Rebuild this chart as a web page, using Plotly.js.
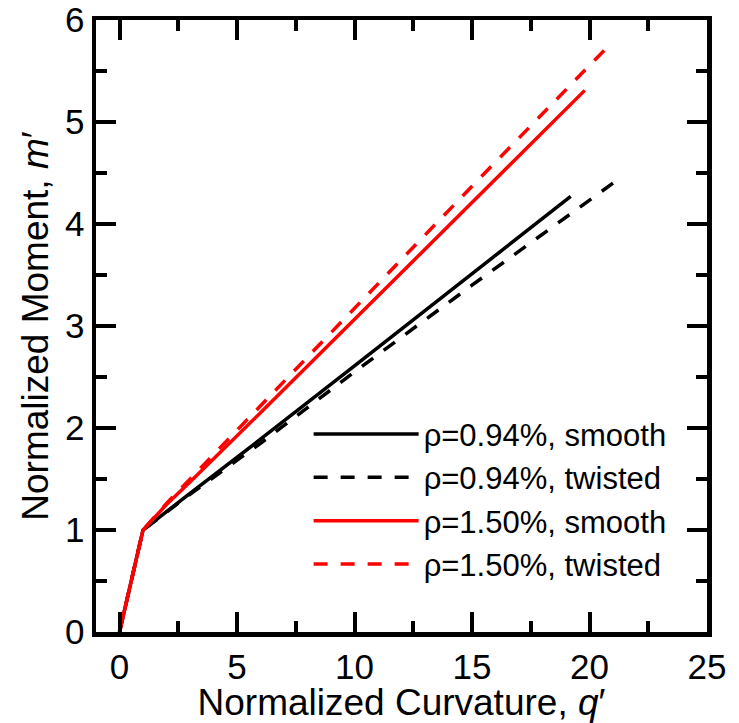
<!DOCTYPE html>
<html>
<head>
<meta charset="utf-8">
<script src="https://cdn.plot.ly/plotly-3.0.1.min.js"></script>
<style>html,body{margin:0;padding:0;background:#fff;}#chart{width:739px;height:723px;}</style>
</head>
<body>
<div id="chart"></div>
<script>
// Normalized curvature (q') and normalized moment (m')
const q_094_smooth = [0, 1, 3, 6, 10, 14, 19.2];
const m_094_smooth = [0, 1, 1.36, 1.89, 2.61, 3.33, 4.27];
const q_094_twisted = [0, 1, 3, 6, 10, 15, 21.0];
const m_094_twisted = [0, 1, 1.35, 1.85, 2.55, 3.40, 4.40];
const q_150_smooth = [0, 1, 2, 3, 6, 10, 15, 19.8];
const m_150_smooth = [0, 1, 1.25, 1.47, 2.15, 3.07, 4.21, 5.31];
const q_150_twisted = [0, 1, 2, 3, 6, 10, 15, 20.7];
const m_150_twisted = [0, 1, 1.26, 1.50, 2.21, 3.17, 4.37, 5.72];
const seriesNames = ['\u03c1=0.94%, smooth', '\u03c1=0.94%, twisted', '\u03c1=1.50%, smooth', '\u03c1=1.50%, twisted'];
const xTicks = [0, 5, 10, 15, 20, 25];
const yTicks = [0, 1, 2, 3, 4, 5, 6];

const FONT = 'Liberation Sans, Arial, sans-serif';
const traces = [
  {x: q_094_smooth, y: m_094_smooth, name: seriesNames[0], line: {color: '#000000', width: 3.5}},
  {x: q_094_twisted, y: m_094_twisted, name: seriesNames[1], line: {color: '#000000', width: 3.5, dash: '14px,13px'}},
  {x: q_150_smooth, y: m_150_smooth, name: seriesNames[2], line: {color: '#ff0000', width: 3.5}},
  {x: q_150_twisted, y: m_150_twisted, name: seriesNames[3], line: {color: '#ff0000', width: 3.5, dash: '14px,13px'}}
].map(t => Object.assign({type: 'scatter', mode: 'lines'}, t));

const axisCommon = {
  showline: true, linewidth: 4.5, linecolor: '#000', mirror: 'allticks',
  ticks: 'inside', ticklen: 20, tickwidth: 4, tickcolor: '#000',
  showgrid: false, zeroline: false,
  tickfont: {family: FONT, size: 35, color: '#000'}
};

const layout = {
  width: 739, height: 723,
  margin: {l: 96, r: 32, t: 20, b: 91},
  paper_bgcolor: '#fff', plot_bgcolor: '#fff',
  font: {family: FONT, color: '#000'},
  xaxis: Object.assign({}, axisCommon, {
    range: [-1, 25], tickvals: xTicks, ticktext: xTicks.map(String),
    minor: {dtick: 2.5, tick0: 0, ticks: 'inside', ticklen: 11, tickwidth: 4, tickcolor: '#000'},
    title: {text: 'Normalized Curvature, <i>q</i>\u2032', font: {family: FONT, size: 37, color: '#000'}, standoff: 2}
  }),
  yaxis: Object.assign({}, axisCommon, {
    range: [0, 6], tickvals: yTicks, ticktext: yTicks.map(String),
    minor: {dtick: 0.5, tick0: 0, ticks: 'inside', ticklen: 11, tickwidth: 4, tickcolor: '#000'},
    title: {text: 'Normalized Moment, <i>m</i>\u2032', font: {family: FONT, size: 37, color: '#000'}, standoff: 6}
  }),
  showlegend: true,
  legend: {
    x: 0.348, y: 0.367, xanchor: 'left', yanchor: 'top',
    bgcolor: 'rgba(0,0,0,0)', borderwidth: 0,
    font: {family: FONT, size: 31, color: '#000'},
    itemwidth: 105, tracegroupgap: 0
  }
};

Plotly.newPlot('chart', traces, layout, {displayModeBar: false, staticPlot: true});
</script>
</body>
</html>
